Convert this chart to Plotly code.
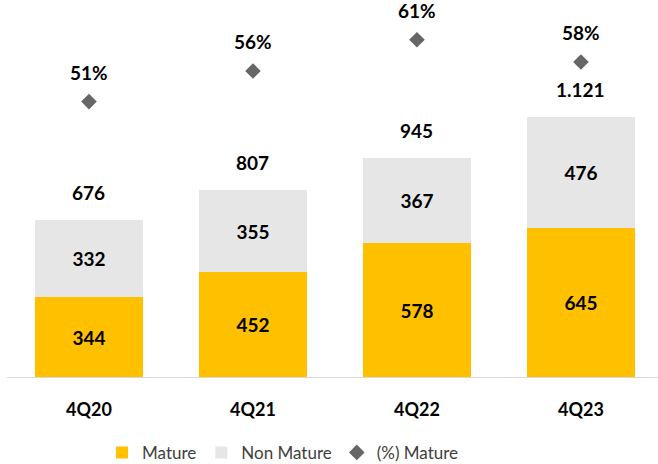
import plotly.graph_objects as go

quarters = ["4Q20", "4Q21", "4Q22", "4Q23"]
mature = [344, 452, 578, 645]
non_mature = [332, 355, 367, 476]
totals = [676, 807, 945, 1121]
total_labels = ["676", "807", "945", "1.121"]
pct_mature = [50.9, 56.0, 61.2, 57.5]
pct_labels = ["51%", "56%", "61%", "58%"]

YELLOW = "#FFC000"
LIGHT_GRAY = "#E6E6E6"
DIAMOND = "#666666"
FONT = "Lato"

fig = go.Figure()

fig.add_trace(go.Bar(
    x=quarters, y=mature, name="Mature",
    marker=dict(color=YELLOW, line=dict(width=0)),
    text=[str(v) for v in mature], textposition="inside",
    insidetextanchor="middle", textangle=0,
    textfont=dict(family=FONT, size=19, color="#000000", weight="bold"),
))
fig.add_trace(go.Bar(
    x=quarters, y=non_mature, name="Non Mature",
    marker=dict(color=LIGHT_GRAY, line=dict(width=0)),
    text=[str(v) for v in non_mature], textposition="inside",
    insidetextanchor="middle", textangle=0,
    textfont=dict(family=FONT, size=19, color="#000000", weight="bold"),
))
fig.add_trace(go.Scatter(
    x=quarters, y=pct_mature, name="(%) Mature", yaxis="y2",
    mode="markers",
    marker=dict(symbol="diamond", size=12, color=DIAMOND),
))

annotations = []
for q, t, lab in zip(quarters, totals, total_labels):
    annotations.append(dict(
        x=q, y=t, xref="x", yref="y", text=f"<b>{lab}</b>",
        showarrow=False, yshift=28, yanchor="middle",
        font=dict(family=FONT, size=19, color="#000000"),
    ))
for q, p, lab in zip(quarters, pct_mature, pct_labels):
    annotations.append(dict(
        x=q, y=p, xref="x", yref="y2", text=f"<b>{lab}</b>",
        showarrow=False, yshift=29, yanchor="middle",
        font=dict(family=FONT, size=19, color="#000000"),
    ))

fig.update_layout(
    width=658, height=464,
    margin=dict(l=7, r=0, t=0, b=87),
    paper_bgcolor="white", plot_bgcolor="white",
    barmode="stack", bargap=0.34,
    showlegend=True,
    legend=dict(
        orientation="h", x=0.424, xanchor="center",
        yref="container", y=0.024, yanchor="middle",
        font=dict(family=FONT, size=17, color="#404040"),
        traceorder="normal", itemwidth=30,
    ),
    xaxis=dict(
        range=[-0.5, 3.47], showgrid=False, zeroline=False, automargin=False,
        showline=True, linecolor="#D9D9D9", linewidth=1,
        ticks="", ticklabelstandoff=16,
        tickfont=dict(family=FONT, size=18, color="#000000", weight="bold"),
    ),
    yaxis=dict(range=[0, 1628], visible=False, showgrid=False),
    yaxis2=dict(range=[5, 67.83], overlaying="y", side="right",
                visible=False, showgrid=False),
    annotations=annotations,
)

fig.write_html("out.html")
